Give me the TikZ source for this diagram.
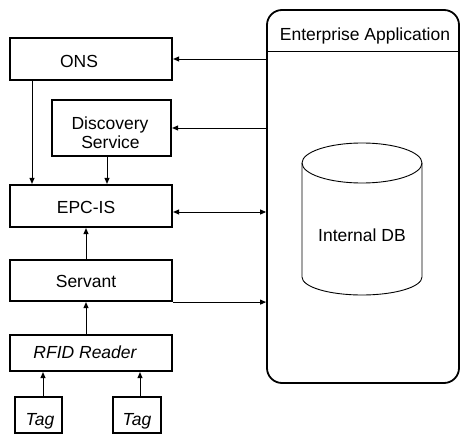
\documentclass[tikz,border=0pt]{standalone}
\usepackage{fontspec}
\setmainfont{Liberation Sans}
\usetikzlibrary{arrows.meta}
\begin{document}
\begin{tikzpicture}[x=1pt,y=-1pt,
  box/.style={draw, line width=2.2pt, inner sep=0pt},
  arr/.style={-{Triangle[length=6pt,width=5pt]}, line width=0.9pt},
  darr/.style={{Triangle[length=6pt,width=5pt]}-{Triangle[length=6pt,width=5pt]}, line width=0.9pt},
  lbl/.style={font=\fontsize{17.5}{20}\selectfont, inner sep=0pt, anchor=base},
  ilbl/.style={font=\fontsize{17.5}{20}\selectfont\itshape, inner sep=0pt, anchor=base}]
\useasboundingbox (0,0) rectangle (461,436);
% boxes
\node[box, minimum width=162, minimum height=42] (ons) at (91,59) {};
\node[box, minimum width=119, minimum height=56] (disc) at (111.5,128) {};
\node[box, minimum width=162, minimum height=42] (epc) at (91,206) {};
\node[box, minimum width=162, minimum height=41] (serv) at (91,280.5) {};
\node[box, minimum width=162, minimum height=36] (rfid) at (91,353) {};
\node[box, minimum width=47, minimum height=36] (tag1) at (38.5,415) {};
\node[box, minimum width=48, minimum height=36] (tag2) at (137,415) {};
% enterprise application
\node[draw, line width=1.8pt, rounded corners=15pt, inner sep=0pt, minimum width=192, minimum height=373] (ea) at (363,196.5) {};
\draw[line width=1pt] (ea.west |- 0,52) -- (ea.east |- 0,52);
% labels
\node[lbl] (tons) at (79,68) {ONS};
\node[lbl] (tdisc1) at (110,129.3) {Discovery};
\node[lbl] (tdisc2) at (110.5,148) {Service};
\node[lbl] (tepc) at (86,213) {EPC-IS};
\node[lbl] (tserv) at (86,287.7) {Servant};
\node[ilbl] (trfid) at (85,358) {RFID Reader};
\node[ilbl] (ttag1) at (40,425) {Tag};
\node[ilbl] (ttag2) at (137,425) {Tag};
\node[lbl] (tea) at (365,41) {Enterprise Application};
% cylinder
\draw[line width=0.9pt] (302,163) -- (302,277) arc[start angle=180,end angle=0,x radius=60,y radius=18] -- (422,163);
\draw[line width=0.9pt] (362,163) ellipse [x radius=60, y radius=20];
\node[lbl] (tdb) at (362,241) {Internal DB};
% arrows
\draw[arr] (ea.west |- ons.east) -- (ons.east);
\draw[arr] (ea.west |- disc.east) -- (disc.east);
\coordinate (e1) at ([yshift=-6pt]epc.east);
\draw[darr] (e1) -- (ea.west |- e1);
\draw[arr] (serv.south east) -- (ea.west |- serv.south east);
\coordinate (o1) at ([xshift=-59pt]ons.south);
\draw[arr] (o1) -- (epc.north -| o1);
\coordinate (d1) at ([xshift=-4.5pt]disc.south);
\draw[arr] (d1) -- (epc.north -| d1);
\coordinate (s1) at ([xshift=-5pt]serv.north);
\draw[arr] (s1) -- (epc.south -| s1);
\coordinate (r1) at ([xshift=-5pt]rfid.north);
\draw[arr] (r1) -- (serv.south -| r1);
\coordinate (g1) at ([xshift=4.5pt]tag1.north);
\draw[arr] (g1) -- (rfid.south -| g1);
\coordinate (g2) at ([xshift=3pt]tag2.north);
\draw[arr] (g2) -- (rfid.south -| g2);
\end{tikzpicture}
\end{document}
